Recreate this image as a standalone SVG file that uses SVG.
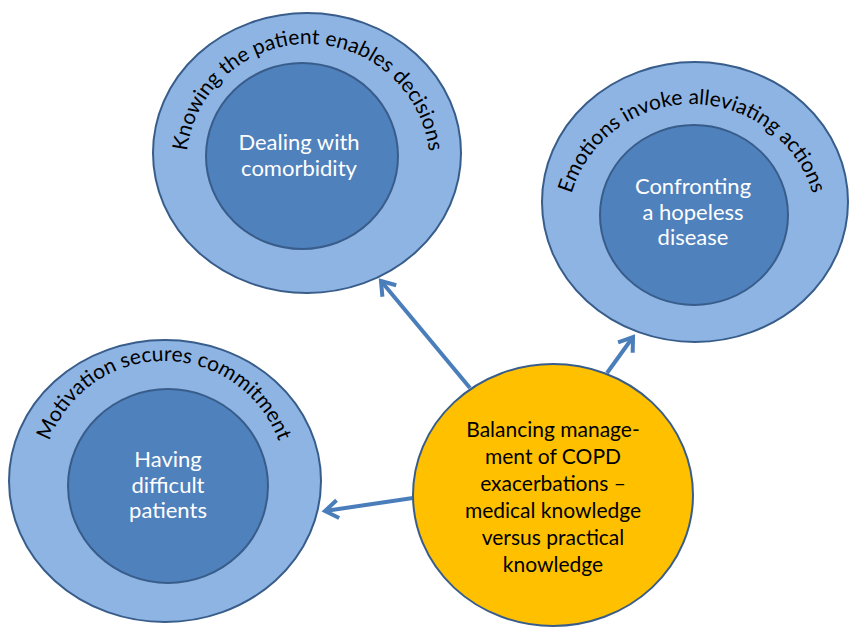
<svg xmlns="http://www.w3.org/2000/svg" width="851" height="628" viewBox="0 0 851 628">
  <style>
    .outer { fill: #8eb4e3; stroke: #385d8a; stroke-width: 2; }
    .inner { fill: #4f81bd; stroke: #385d8a; stroke-width: 2; }
    .core { fill: #ffc000; stroke: #385d8a; stroke-width: 2; }
    .label { font-family: Lato, "Liberation Sans", sans-serif; font-size: 22px; fill: #ffffff; text-anchor: middle; }
    .arc { font-family: Lato, "Liberation Sans", sans-serif; font-size: 21px; fill: #000000; }
    .coretext { font-family: Lato, "Liberation Sans", sans-serif; font-size: 21px; fill: #000000; text-anchor: middle; }
    .link { fill: none; stroke: #4a7ebb; stroke-width: 4; marker-end: url(#chevron); }
  </style>
  <defs>
    <marker id="chevron" markerUnits="userSpaceOnUse" markerWidth="30" markerHeight="30" viewBox="-20 -15 30 30" refX="0" refY="0" orient="auto">
      <path d="M -13,-9 L 0,0 L -13,9" fill="none" stroke="#4a7ebb" stroke-width="4" stroke-linejoin="miter"/>
    </marker>
    <!-- baseline arcs for the curved ring titles -->
    <path id="arcTL" d="M 188,188 A 122,122 0 1 1 428,188"/>
    <path id="arcTR" d="M 567,246 A 126,126 0 1 1 817,246"/>
    <path id="arcL" d="M 44,505 A 122,122 0 1 1 284,505"/>
  </defs>

  <g id="connectors">
    <line class="link" x1="470" y1="388" x2="381" y2="281"/>
    <line class="link" x1="607" y1="373" x2="633" y2="337"/>
    <line class="link" x1="413" y1="498" x2="325" y2="511"/>
  </g>

  <g id="node-knowing">
    <ellipse class="outer" cx="307" cy="153" rx="154" ry="140"/>
    <ellipse class="inner" cx="302" cy="156" rx="96" ry="93"/>
    <text class="arc"><textPath href="#arcTL" startOffset="50%" text-anchor="middle">Knowing the patient enables decisions</textPath></text>
    <text class="label" x="299" y="150">Dealing with</text>
    <text class="label" x="299" y="176">comorbidity</text>
  </g>

  <g id="node-emotions">
    <ellipse class="outer" cx="695" cy="202" rx="153" ry="140"/>
    <ellipse class="inner" cx="694" cy="215" rx="94" ry="90"/>
    <text class="arc"><textPath href="#arcTR" startOffset="50%" text-anchor="middle">Emotions invoke alleviating actions</textPath></text>
    <text class="label" x="693" y="194">Confronting</text>
    <text class="label" x="693" y="220">a hopeless</text>
    <text class="label" x="693" y="245">disease</text>
  </g>

  <g id="node-motivation">
    <ellipse class="outer" cx="165" cy="481" rx="156" ry="141"/>
    <ellipse class="inner" cx="168" cy="486" rx="100" ry="97"/>
    <text class="arc"><textPath href="#arcL" startOffset="50%" text-anchor="middle">Motivation secures commitment</textPath></text>
    <text class="label" x="168" y="467">Having</text>
    <text class="label" x="168" y="493">difficult</text>
    <text class="label" x="168" y="518">patients</text>
  </g>

  <g id="node-balancing">
    <ellipse class="core" cx="553" cy="495" rx="140" ry="131"/>
    <text class="coretext" x="553" y="437">Balancing manage-</text>
    <text class="coretext" x="553" y="464">ment of COPD</text>
    <text class="coretext" x="553" y="491">exacerbations –</text>
    <text class="coretext" x="553" y="518">medical knowledge</text>
    <text class="coretext" x="553" y="545">versus practical</text>
    <text class="coretext" x="553" y="572">knowledge</text>
  </g>
</svg>
